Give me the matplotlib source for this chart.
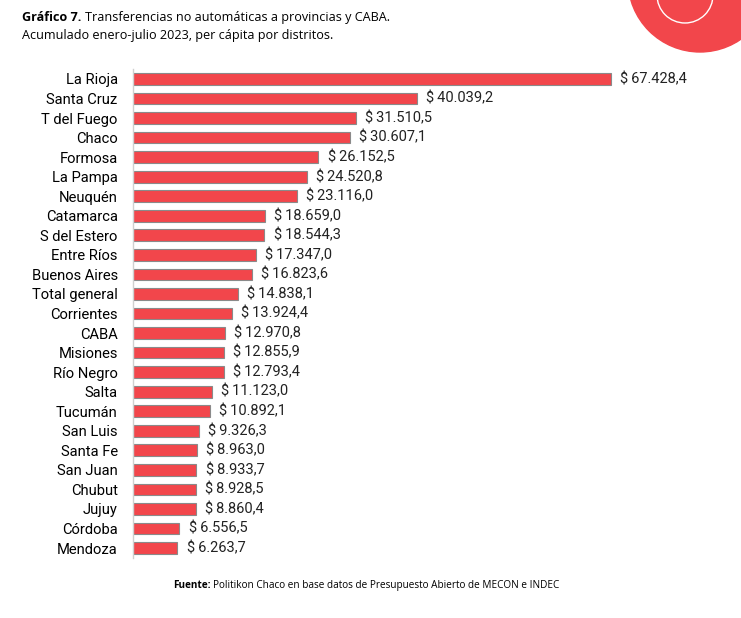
import matplotlib.pyplot as plt
from matplotlib.patches import Circle

distritos = ['La Rioja', 'Santa Cruz', 'T del Fuego', 'Chaco', 'Formosa', 'La Pampa',
             'Neuquén', 'Catamarca', 'S del Estero', 'Entre Ríos', 'Buenos Aires',
             'Total general', 'Corrientes', 'CABA', 'Misiones', 'Río Negro', 'Salta',
             'Tucumán', 'San Luis', 'Santa Fe', 'San Juan', 'Chubut', 'Jujuy',
             'Córdoba', 'Mendoza']
valores = [67428.4, 40039.2, 31510.5, 30607.1, 26152.5, 24520.8, 23116.0, 18659.0,
           18544.3, 17347.0, 16823.6, 14838.1, 13924.4, 12970.8, 12855.9, 12793.4,
           11123.0, 10892.1, 9326.3, 8963.0, 8933.7, 8928.5, 8860.4, 6556.5, 6263.7]

fuente_t = ['Open Sans', 'DejaVu Sans']


def fmt(v):
    s = f'{v:,.1f}'.replace(',', 'X').replace('.', ',').replace('X', '.')
    return '$\u2009' + s


fig = plt.figure(figsize=(7.41, 6.18), dpi=100)
ax = fig.add_axes([0.1795, 0.0974, 0.765, 0.7906])

y = list(range(len(distritos)))
ax.barh(y, valores, height=0.6, color='#F2464B', edgecolor='#8a8a8a', linewidth=0.8)
for yi, v in zip(y, valores):
    ax.text(v + 1300, yi, fmt(v), va='center', ha='left', fontsize=10.5,
            family=['Roboto', 'DejaVu Sans'], color='#222222')

ax.set_xlim(0, 80000)
ax.set_ylim(len(distritos) - 0.5, -0.5)
ax.set_yticks(y)
ax.set_yticklabels(distritos, fontsize=10.6, family=['Roboto', 'DejaVu Sans'])
ax.tick_params(axis='y', length=0, pad=11)
ax.set_xticks([])
for s in ['top', 'right', 'bottom']:
    ax.spines[s].set_visible(False)
ax.spines['left'].set_color('#d0d0d0')
ax.spines['left'].set_linewidth(1)

# titulo
t1 = fig.text(0.03, 0.971, 'Gráfico 7.', fontsize=9.1, va='center', weight='bold',
              family=fuente_t)
fig.canvas.draw()
bb = t1.get_window_extent().transformed(fig.transFigure.inverted())
fig.text(bb.x1 + 0.004, 0.971, 'Transferencias no automáticas a provincias y CABA.',
         fontsize=9.1, va='center', family=fuente_t)
fig.text(0.03, 0.943, 'Acumulado enero-julio 2023, per cápita por distritos.',
         fontsize=9.1, va='center', family=fuente_t)

# fuente
t2 = fig.text(0.233, 0.053, 'Fuente:', fontsize=7.2, va='center', weight='bold',
              family=fuente_t)
fig.canvas.draw()
bb2 = t2.get_window_extent().transformed(fig.transFigure.inverted())
fig.text(bb2.x1 + 0.003, 0.053, 'Politikon Chaco en base datos de Presupuesto Abierto de MECON e INDEC',
         fontsize=7.2, va='center', family=fuente_t)

# logo
circ = Circle((7.00, 6.18 + 0.20), 0.72, transform=fig.dpi_scale_trans,
              color='#F2464B', clip_on=False)
fig.patches.append(circ)
globo = Circle((6.85, 6.18 + 0.05), 0.28, transform=fig.dpi_scale_trans,
               fill=False, edgecolor='white', linewidth=1, clip_on=False)
fig.patches.append(globo)

fig.savefig('out.png', dpi=100)
